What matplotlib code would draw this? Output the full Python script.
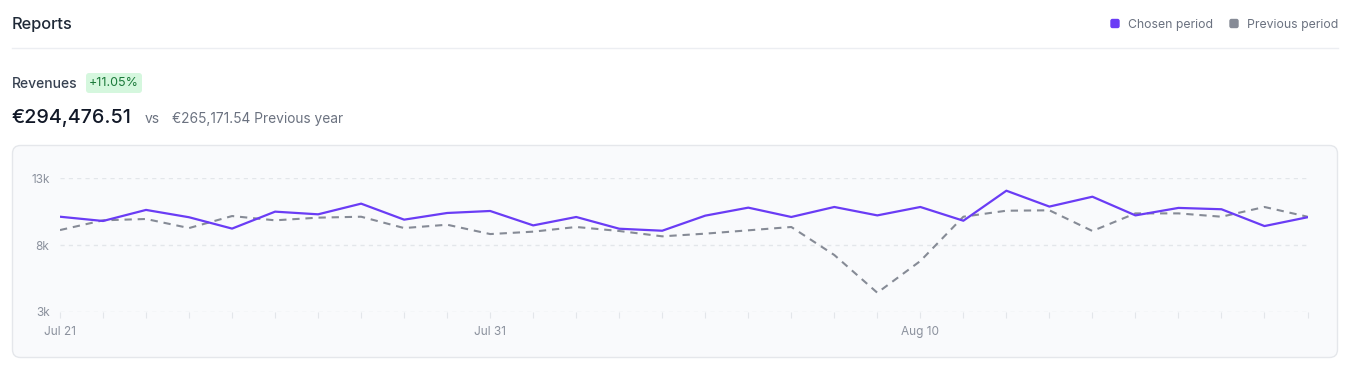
import matplotlib
matplotlib.use("Agg")
import matplotlib.pyplot as plt
from matplotlib.patches import FancyBboxPatch
import pandas as pd

plt.rcParams["font.family"] = ["Inter", "DejaVu Sans"]

# data (thousands of euros per day)
days = pd.date_range("2024-07-21", periods=30, freq="D")
chosen = [10.12, 9.80, 10.63, 10.08, 9.23, 10.50, 10.30, 11.10, 9.90, 10.40,
          10.55, 9.47, 10.10, 9.22, 9.07, 10.20, 10.80, 10.10, 10.85, 10.22,
          10.85, 9.82, 12.07, 10.88, 11.62, 10.22, 10.78, 10.68, 9.42, 10.08]
previous = [9.12, 9.85, 9.95, 9.27, 10.17, 9.85, 10.05, 10.12, 9.27, 9.52,
            8.82, 9.00, 9.35, 9.05, 8.65, 8.85, 9.10, 9.35, 7.25, 4.42,
            6.80, 10.12, 10.57, 10.60, 9.05, 10.37, 10.37, 10.12, 10.85, 10.12]
y_ticks = [3, 8, 13]
y_labels = ["3k", "8k", "13k"]
label_every = 10

title = "Reports"
metric = "Revenues"
change = "+11.05%"
total_now = "€294,476.51"
total_prev = "€265,171.54 Previous year"
series_names = ["Chosen period", "Previous period"]

PURPLE = "#6a3cf5"
GRAY = "#868b96"
W, H = 1352, 375

fig = plt.figure(figsize=(W / 100, H / 100), dpi=100)
fig.patch.set_facecolor("white")

# background layer in pixel coords (y down)
bg = fig.add_axes([0, 0, 1, 1])
bg.set_xlim(0, W)
bg.set_ylim(H, 0)
bg.axis("off")

bg.text(12, 29.5, title, fontsize=11.8, fontweight="medium", color="#1f2937", va="baseline")
bg.plot([12, 1338], [48, 48], color="#eceef2", lw=1)

# legend
for sx, tx, name, c in [(1110, 1128, series_names[0], PURPLE),
                        (1229, 1247, series_names[1], GRAY)]:
    bg.add_patch(FancyBboxPatch((sx + 1, 19.5), 8, 8, boxstyle="round,pad=0,rounding_size=1.5",
                                fc=c, ec=c, lw=1))
    bg.text(tx, 28.3, name, fontsize=8.8, color="#6b7280", va="baseline")

bg.text(12, 87.7, metric, fontsize=10, fontweight="medium", color="#374151", va="baseline")
bg.add_patch(FancyBboxPatch((86, 73), 56, 20, boxstyle="round,pad=0,rounding_size=3",
                            fc="#d5f7de", ec="none"))
bg.text(114, 83.5, change, fontsize=9, color="#1b7a3a", ha="center", va="center")

bg.text(12, 122.7, total_now, fontsize=14.2, fontweight="medium", color="#111827", va="baseline")
bg.text(145, 122.7, "vs", fontsize=10, color="#6b7280", va="baseline")
bg.text(172, 122.7, total_prev, fontsize=9.9, color="#6b7280", va="baseline")

# chart panel
bg.add_patch(FancyBboxPatch((12.5, 145.5), 1325, 212, boxstyle="round,pad=0,rounding_size=8",
                            fc="#f9fafc", ec="#e5e7eb", lw=1))

# chart axes
x0, x1 = 60, 1307.5
ytop, ybot = 178.3, 311.7
ax = fig.add_axes([x0 / W, (H - ybot) / H, (x1 - x0) / W, (ybot - ytop) / H])
ax.patch.set_alpha(0)
xs = list(range(len(days)))
ax.plot(xs, previous, color=GRAY, lw=1.5, ls=(0, (3.5, 2.8)), zorder=2)
ax.plot(xs, chosen, color=PURPLE, lw=1.6, zorder=3)

ax.set_xlim(0, len(days) - 1)
ax.set_ylim(y_ticks[0], y_ticks[-1])
for s in ax.spines.values():
    s.set_visible(False)

for v in y_ticks:
    ax.axhline(v, color="#e3e6ea", lw=1, ls=(0, (3, 3)), zorder=1)

ax.set_yticks(y_ticks)
ax.set_yticklabels(y_labels)
ax.tick_params(axis="y", length=0, pad=7.5, labelsize=8.5, labelcolor="#8b919d")

ax.set_xticks(xs)
ax.set_xticklabels([d.strftime("%b %-d") if i % label_every == 0 else ""
                    for i, d in enumerate(days)])
ax.tick_params(axis="x", length=4.5, width=0.8, color="#e3e6ea", pad=6,
               labelsize=8.5, labelcolor="#8b919d")

fig.savefig("out.png", dpi=100, facecolor="white")
